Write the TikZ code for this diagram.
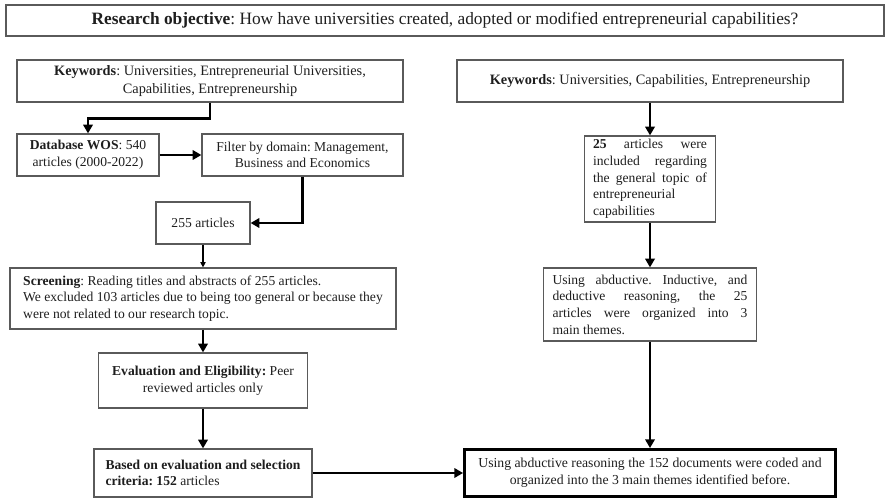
\documentclass[tikz,border=0pt]{standalone}
\usepackage{fontspec}
\setmainfont{Liberation Serif}
\usetikzlibrary{arrows.meta}
\definecolor{boxline}{HTML}{5A5A5A}
\definecolor{ink}{HTML}{1E1E1E}
\hbadness=10000
\tolerance=10000
\hyphenpenalty=10000
\frenchspacing
\tikzset{
  box/.style={draw=boxline, line width=0.9pt, text=ink, inner ysep=2pt,
    font=\fontsize{10.2}{12.5}\selectfont},
  keybox/.style={box, minimum width=289.5pt, minimum height=31.5pt, align=center,
    font=\fontsize{10.75}{13.5}\selectfont},
  flow/.style={line width=2pt, -{Triangle[length=6.5pt,width=7pt]}},
  thinflow/.style={line width=0.8pt, -{Triangle[length=4pt,width=4pt]}},
}
\begin{document}
\begin{tikzpicture}[x=0.75pt,y=-0.75pt]
\useasboundingbox (0,0) rectangle (887,498);

% objective banner
\node[box, minimum width=658.5pt, minimum height=23.25pt,
      font=\fontsize{13}{15}\selectfont] (objective) at (445,20.5)
  {\textbf{Research objective}: How have universities created, adopted or modified entrepreneurial capabilities?};

% left column: database search
\node[keybox] (kwleft) at (210,81)
  {\textbf{Keywords}: Universities, Entrepreneurial Universities,\\Capabilities, Entrepreneurship};
\node[box, minimum width=106.5pt, minimum height=31.5pt, align=center] (db) at (88,155)
  {\textbf{Database WOS}: 540\\articles (2000-2022)};
\node[box, minimum width=150.75pt, minimum height=31.5pt, align=center] (filter) at (302.5,155)
  {Filter by domain: Management,\\Business and Economics};
\node[box, minimum width=70.5pt, minimum height=31.5pt] (a255) at (203,223)
  {255 articles};
\node[box, minimum width=289.5pt, minimum height=45.75pt, align=left] (screen) at (203,298.5)
  {\textbf{Screening}: Reading titles and abstracts of 255 articles.\\
   We excluded 103 articles due to being too general or because they\\
   were not related to our research topic.};
\node[box, minimum width=156.75pt, minimum height=41.25pt, align=center] (eval) at (203,380.5)
  {\textbf{Evaluation and Eligibility:} Peer\\reviewed articles only};
\node[box, minimum width=163.5pt, minimum height=36pt, align=left] (based) at (203,473)
  {\textbf{Based on evaluation and selection}\\\textbf{criteria: 152} articles};

% right column: thematic analysis
\node[keybox] (kwright) at (650,81)
  {\textbf{Keywords}: Universities, Capabilities, Entrepreneurship};
\node[box, text width=85.5pt, inner xsep=6.375pt, minimum height=64.5pt, align=justify] (k25) at (650,179)
  {\textbf{25} articles were\linebreak included regarding\linebreak the general topic of\linebreak entrepreneurial\\capabilities};
\node[box, text width=146.25pt, inner xsep=6.75pt, minimum height=54.75pt, align=justify] (using) at (650,304.5)
  {Using abductive. Inductive, and\linebreak deductive reasoning, the 25\linebreak articles were organized into 3\linebreak main themes.};
\node[box, draw=black, line width=2.4pt, minimum width=278pt, minimum height=35pt, align=center,
      font=\fontsize{10.3}{12.5}\selectfont] (final) at (650,473)
  {Using abductive reasoning the 152 documents were coded and\\organized into the 3 main themes identified before.};

% connectors
\draw[flow] (kwleft.south) -- ++(0,16) -| (db.north);
\draw[flow] (db.east) -- (filter.west);
\draw[flow] (filter.south) |- (a255.east);
\draw[thinflow] (a255.south) -- (screen.north);
\draw[flow] (screen.south) -- (eval.north);
\draw[flow] (eval.south) -- (based.north);
\draw[flow] (based.east) -- (final.west);
\draw[flow] (kwright.south) -- (k25.north);
\draw[flow] (k25.south) -- (using.north);
\draw[flow] (using.south) -- (final.north);
\end{tikzpicture}
\end{document}
